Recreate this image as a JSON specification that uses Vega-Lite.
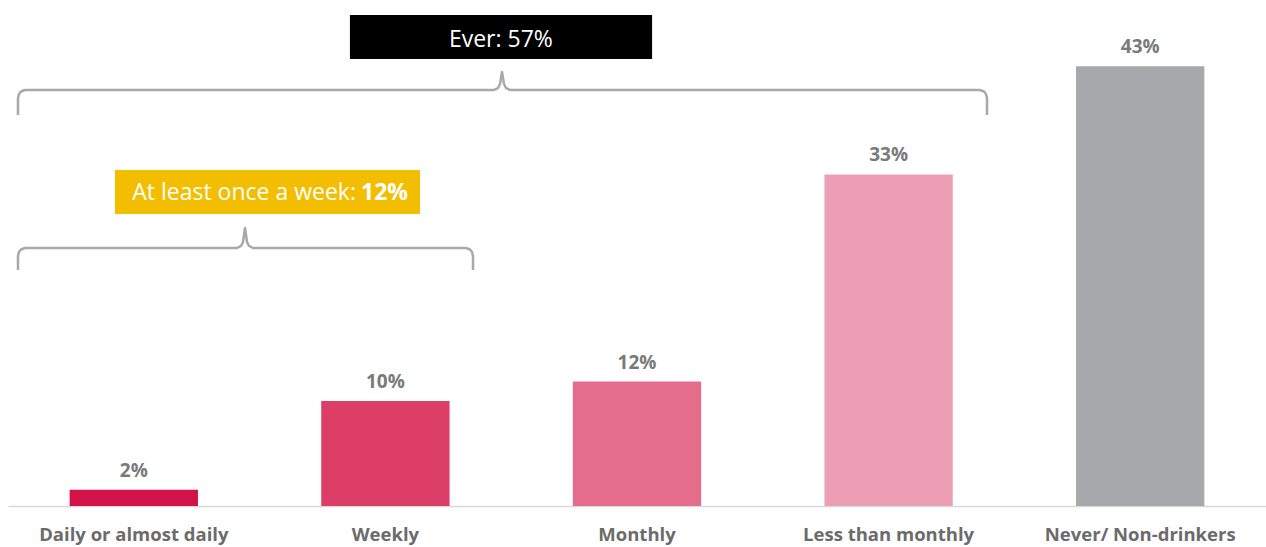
{
  "$schema": "https://vega.github.io/schema/vega-lite/v6.json",
  "width": 1258,
  "height": 506,
  "autosize": {"type": "none"},
  "padding": {"left": 8, "top": 0, "right": 0, "bottom": 41},
  "background": "white",
  "config": {"view": {"stroke": null}, "font": "Open Sans"},
  "datasets": {
    "bars": [
      {"category": "Daily or almost daily", "value": 1.6, "label": "2%"},
      {"category": "Weekly", "value": 10.3, "label": "10%"},
      {"category": "Monthly", "value": 12.2, "label": "12%"},
      {"category": "Less than monthly", "value": 32.5, "label": "33%"},
      {"category": "Never/ Non-drinkers", "value": 43.1, "label": "43%"}
    ],
    "brackets": [
      {"group": "ever", "i": 0, "x": 0.0397, "y": 38.33},
      {"group": "ever", "i": 1, "x": 0.0397, "y": 39.99},
      {"group": "ever", "i": 2, "x": 0.0437, "y": 40.39},
      {"group": "ever", "i": 3, "x": 0.0517, "y": 40.63},
      {"group": "ever", "i": 4, "x": 0.0676, "y": 40.78},
      {"group": "ever", "i": 5, "x": 1.9316, "y": 40.78},
      {"group": "ever", "i": 6, "x": 1.9475, "y": 40.97},
      {"group": "ever", "i": 7, "x": 1.9555, "y": 41.37},
      {"group": "ever", "i": 8, "x": 1.9634, "y": 42.54},
      {"group": "ever", "i": 9, "x": 1.9714, "y": 41.37},
      {"group": "ever", "i": 10, "x": 1.9793, "y": 40.97},
      {"group": "ever", "i": 11, "x": 1.9952, "y": 40.78},
      {"group": "ever", "i": 12, "x": 3.8633, "y": 40.78},
      {"group": "ever", "i": 13, "x": 3.8792, "y": 40.63},
      {"group": "ever", "i": 14, "x": 3.8871, "y": 40.39},
      {"group": "ever", "i": 15, "x": 3.8911, "y": 39.99},
      {"group": "ever", "i": 16, "x": 3.8911, "y": 38.33},
      {"group": "weekly", "i": 0, "x": 0.0397, "y": 23.13},
      {"group": "weekly", "i": 1, "x": 0.0397, "y": 24.51},
      {"group": "weekly", "i": 2, "x": 0.0437, "y": 24.90},
      {"group": "weekly", "i": 3, "x": 0.0517, "y": 25.14},
      {"group": "weekly", "i": 4, "x": 0.0676, "y": 25.29},
      {"group": "weekly", "i": 5, "x": 0.9102, "y": 25.29},
      {"group": "weekly", "i": 6, "x": 0.9261, "y": 25.49},
      {"group": "weekly", "i": 7, "x": 0.9340, "y": 25.88},
      {"group": "weekly", "i": 8, "x": 0.9420, "y": 27.25},
      {"group": "weekly", "i": 9, "x": 0.9499, "y": 25.88},
      {"group": "weekly", "i": 10, "x": 0.9579, "y": 25.49},
      {"group": "weekly", "i": 11, "x": 0.9738, "y": 25.29},
      {"group": "weekly", "i": 12, "x": 1.8204, "y": 25.29},
      {"group": "weekly", "i": 13, "x": 1.8363, "y": 25.14},
      {"group": "weekly", "i": 14, "x": 1.8442, "y": 24.90},
      {"group": "weekly", "i": 15, "x": 1.8482, "y": 24.51},
      {"group": "weekly", "i": 16, "x": 1.8482, "y": 23.13}
    ],
    "boxes": [
      {"name": "ever", "x": 1.359, "x2": 2.560, "y": 48.13, "y2": 43.82},
      {"name": "weekly", "x": 0.425, "x2": 1.6375, "y": 32.94, "y2": 28.63}
    ],
    "everText": [{"x": 1.959, "y": 45.68, "text": "Ever: 57%"}],
    "weeklyText": [{"x": 1.403, "y": 30.68, "text": "At least once a week:", "bold": "12%"}]
  },
  "layer": [
    {
      "data": {"name": "bars"},
      "encoding": {
        "x": {
          "field": "category",
          "type": "nominal",
          "sort": null,
          "scale": {"paddingInner": 0.49, "paddingOuter": 0.245},
          "axis": {
            "title": null,
            "labelAngle": 0,
            "ticks": false,
            "domainColor": "#D9D9D9",
            "domainWidth": 1.5,
            "labelFont": "Open Sans",
            "labelFontSize": 18.5,
            "labelFontWeight": "bold",
            "labelColor": "#6B6B6B",
            "labelPadding": 19,
            "labelLimit": 0
          }
        },
        "y": {
          "field": "value",
          "type": "quantitative",
          "scale": {"domain": [0, 49.6], "nice": false, "zero": true},
          "axis": null
        }
      },
      "layer": [
        {
          "mark": {"type": "bar"},
          "encoding": {
            "color": {
              "field": "category",
              "type": "nominal",
              "legend": null,
              "scale": {
                "domain": ["Daily or almost daily", "Weekly", "Monthly", "Less than monthly", "Never/ Non-drinkers"],
                "range": ["#D31348", "#DC3E67", "#E46D8C", "#EDA0B5", "#A7A8AB"]
              }
            }
          }
        },
        {
          "mark": {"type": "text", "baseline": "bottom", "dy": -9, "fontSize": 19, "fontWeight": "bold", "color": "#7A7A7A", "font": "Open Sans"},
          "encoding": {"text": {"field": "label"}}
        }
      ]
    },
    {
      "layer": [
        {
          "data": {"name": "boxes"},
          "mark": {"type": "rect"},
          "encoding": {
            "x": {"field": "x", "type": "quantitative", "scale": {"domain": [0, 5], "nice": false, "zero": false}, "axis": null},
            "x2": {"field": "x2"},
            "y": {"field": "y", "type": "quantitative", "scale": {"domain": [0, 49.6], "nice": false}},
            "y2": {"field": "y2"},
            "color": {"field": "name", "type": "nominal", "legend": null, "scale": {"domain": ["ever", "weekly"], "range": ["#000000", "#F4BE00"]}}
          }
        },
        {
          "data": {"name": "brackets"},
          "mark": {"type": "line", "color": "#A9A9A9", "strokeWidth": 2.5, "strokeJoin": "round"},
          "encoding": {
            "x": {"field": "x", "type": "quantitative", "scale": {"domain": [0, 5], "nice": false, "zero": false}, "axis": null},
            "y": {"field": "y", "type": "quantitative", "scale": {"domain": [0, 49.6], "nice": false}},
            "detail": {"field": "group"},
            "order": {"field": "i", "type": "quantitative"}
          }
        },
        {
          "data": {"name": "everText"},
          "mark": {"type": "text", "color": "white", "fontSize": 23, "font": "Open Sans", "baseline": "middle", "align": "center"},
          "encoding": {
            "x": {"field": "x", "type": "quantitative", "scale": {"domain": [0, 5], "nice": false, "zero": false}, "axis": null},
            "y": {"field": "y", "type": "quantitative", "scale": {"domain": [0, 49.6], "nice": false}},
            "text": {"field": "text"}
          }
        },
        {
          "data": {"name": "weeklyText"},
          "mark": {"type": "text", "color": "white", "fontSize": 23, "font": "Open Sans", "baseline": "middle", "align": "right", "dx": -5},
          "encoding": {
            "x": {"field": "x", "type": "quantitative", "scale": {"domain": [0, 5], "nice": false, "zero": false}, "axis": null},
            "y": {"field": "y", "type": "quantitative", "scale": {"domain": [0, 49.6], "nice": false}},
            "text": {"field": "text"}
          }
        },
        {
          "data": {"name": "weeklyText"},
          "mark": {"type": "text", "color": "white", "fontSize": 23, "font": "Open Sans", "fontWeight": "bold", "baseline": "middle", "align": "left"},
          "encoding": {
            "x": {"field": "x", "type": "quantitative", "scale": {"domain": [0, 5], "nice": false, "zero": false}, "axis": null},
            "y": {"field": "y", "type": "quantitative", "scale": {"domain": [0, 49.6], "nice": false}},
            "text": {"field": "bold"}
          }
        }
      ]
    }
  ],
  "resolve": {"scale": {"x": "independent", "color": "independent"}}
}
